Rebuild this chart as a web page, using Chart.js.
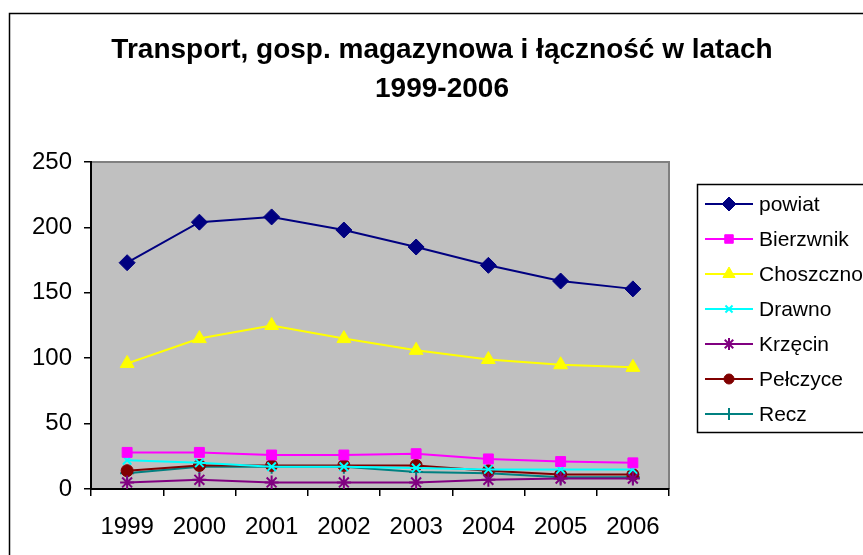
<!DOCTYPE html>
<html>
<head>
<meta charset="utf-8">
<script src="https://cdn.jsdelivr.net/npm/chart.js@4.4.1/dist/chart.umd.min.js"></script>
<style>
  html, body { margin: 0; padding: 0; background: #fff; }
  #wrap { width: 863px; height: 555px; }
</style>
</head>
<body>
<div id="wrap"><canvas id="chart" width="863" height="555"></canvas></div>
<script>
const years = ['1999', '2000', '2001', '2002', '2003', '2004', '2005', '2006'];
const powiat = [173, 204, 208, 198, 185, 171, 159, 153];
const bierzwnik = [28, 28, 26, 26, 27, 23, 21, 20];
const choszczno = [96, 115, 125, 115, 106, 99, 95, 93];
const drawno = [22, 20, 17, 17, 16, 15, 15, 15];
const krzecin = [5, 7, 5, 5, 5, 7, 8, 8];
const pelczyce = [14, 18, 18, 18, 18, 14, 11, 11];
const recz = [12, 17, 17, 17, 13, 12, 9, 9];
const yTicks = [0, 50, 100, 150, 200, 250];

const FONT = '"Liberation Sans", Arial, sans-serif';

function series(label, data, color, style, radius) {
    return {
        label: label,
        data: data,
        borderColor: color,
        backgroundColor: color,
        borderWidth: 2,
        pointStyle: style,
        pointRadius: radius,
        pointBorderWidth: style === 'star' || style === 'cross' || style === 'crossRot' ? 2 : 1,
        pointBorderColor: color,
        pointBackgroundColor: color,
        tension: 0
    };
}

// frame, plot background and title
const frame = {
    id: 'frame',
    beforeDraw(chart) {
        const c = chart.ctx, a = chart.chartArea;
        c.save();
        c.fillStyle = '#fff';
        c.fillRect(0, 0, chart.width, chart.height);
        c.strokeStyle = '#000';
        c.lineWidth = 1.5;
        c.strokeRect(9.5, 13.5, 900, 600);
        c.fillStyle = '#c0c0c0';
        c.fillRect(a.left, a.top, a.right - a.left, a.bottom - a.top);
        c.strokeStyle = '#808080';
        c.lineWidth = 2;
        c.beginPath();
        c.moveTo(a.left, a.top);
        c.lineTo(a.right, a.top);
        c.lineTo(a.right, a.bottom);
        c.stroke();
        c.fillStyle = '#000';
        c.font = 'bold 28px ' + FONT;
        c.textAlign = 'center';
        c.textBaseline = 'middle';
        c.fillText('Transport, gosp. magazynowa i łączność w latach', 442, 50);
        c.fillText('1999-2006', 442, 89);
        c.restore();
    }
};

// excel-like legend: line with marker
const legendBox = {
    id: 'legendBox',
    afterDraw(chart) {
        const c = chart.ctx;
        const x0 = 697, y0 = 184, rowH = 35;
        c.save();
        c.strokeStyle = '#000';
        c.lineWidth = 1.5;
        c.strokeRect(x0 + 0.5, y0 + 0.5, 300, 248);
        chart.data.datasets.forEach((ds, i) => {
            const y = 204 + i * rowH;
            c.strokeStyle = ds.borderColor;
            c.lineWidth = 2;
            c.beginPath();
            c.moveTo(705, y);
            c.lineTo(753, y);
            c.stroke();
            c.fillStyle = ds.backgroundColor;
            c.lineWidth = ds.pointBorderWidth;
            Chart.helpers.drawPoint(c, { pointStyle: ds.pointStyle, radius: ds.pointRadius - 1, rotation: 0, borderWidth: ds.pointBorderWidth }, 729, y);
            c.fillStyle = '#000';
            c.font = '21px ' + FONT;
            c.textAlign = 'left';
            c.textBaseline = 'middle';
            c.fillText(ds.label, 759, y + 1);
        });
        c.restore();
    }
};

new Chart(document.getElementById('chart'), {
    type: 'line',
    data: {
        labels: years,
        datasets: [
            series('powiat', powiat, '#000080', 'rectRot', 8),
            series('Bierzwnik', bierzwnik, '#ff00ff', 'rect', 7),
            series('Choszczno', choszczno, '#ffff00', 'triangle', 8),
            series('Drawno', drawno, '#00ffff', 'crossRot', 6),
            series('Krzęcin', krzecin, '#800080', 'star', 7),
            series('Pełczyce', pelczyce, '#800000', 'circle', 6),
            series('Recz', recz, '#008080', 'cross', 7)
        ]
    },
    options: {
        responsive: false,
        animation: false,
        layout: { padding: { left: 0, top: 162, right: 194, bottom: 0 } },
        plugins: { legend: { display: false }, title: { display: false }, tooltip: { enabled: false } },
        scales: {
            x: {
                offset: true,
                afterFit: s => { s.height = 66; },
                grid: { offset: true, drawOnChartArea: false, tickLength: 7, color: '#000', lineWidth: 1.5 },
                border: { color: '#000', width: 2 },
                ticks: { color: '#000', font: { family: FONT, size: 24 }, padding: 17, maxRotation: 0 }
            },
            y: {
                min: 0,
                max: 250,
                afterFit: s => { s.width = 91; },
                afterBuildTicks: s => { s.ticks = yTicks.map(v => ({ value: v })); },
                grid: { drawOnChartArea: false, tickLength: 7, color: '#000', lineWidth: 1.5 },
                border: { color: '#000', width: 2 },
                ticks: { color: '#000', font: { family: FONT, size: 24 }, padding: 12 }
            }
        }
    },
    plugins: [frame, legendBox]
});
</script>
</body>
</html>
